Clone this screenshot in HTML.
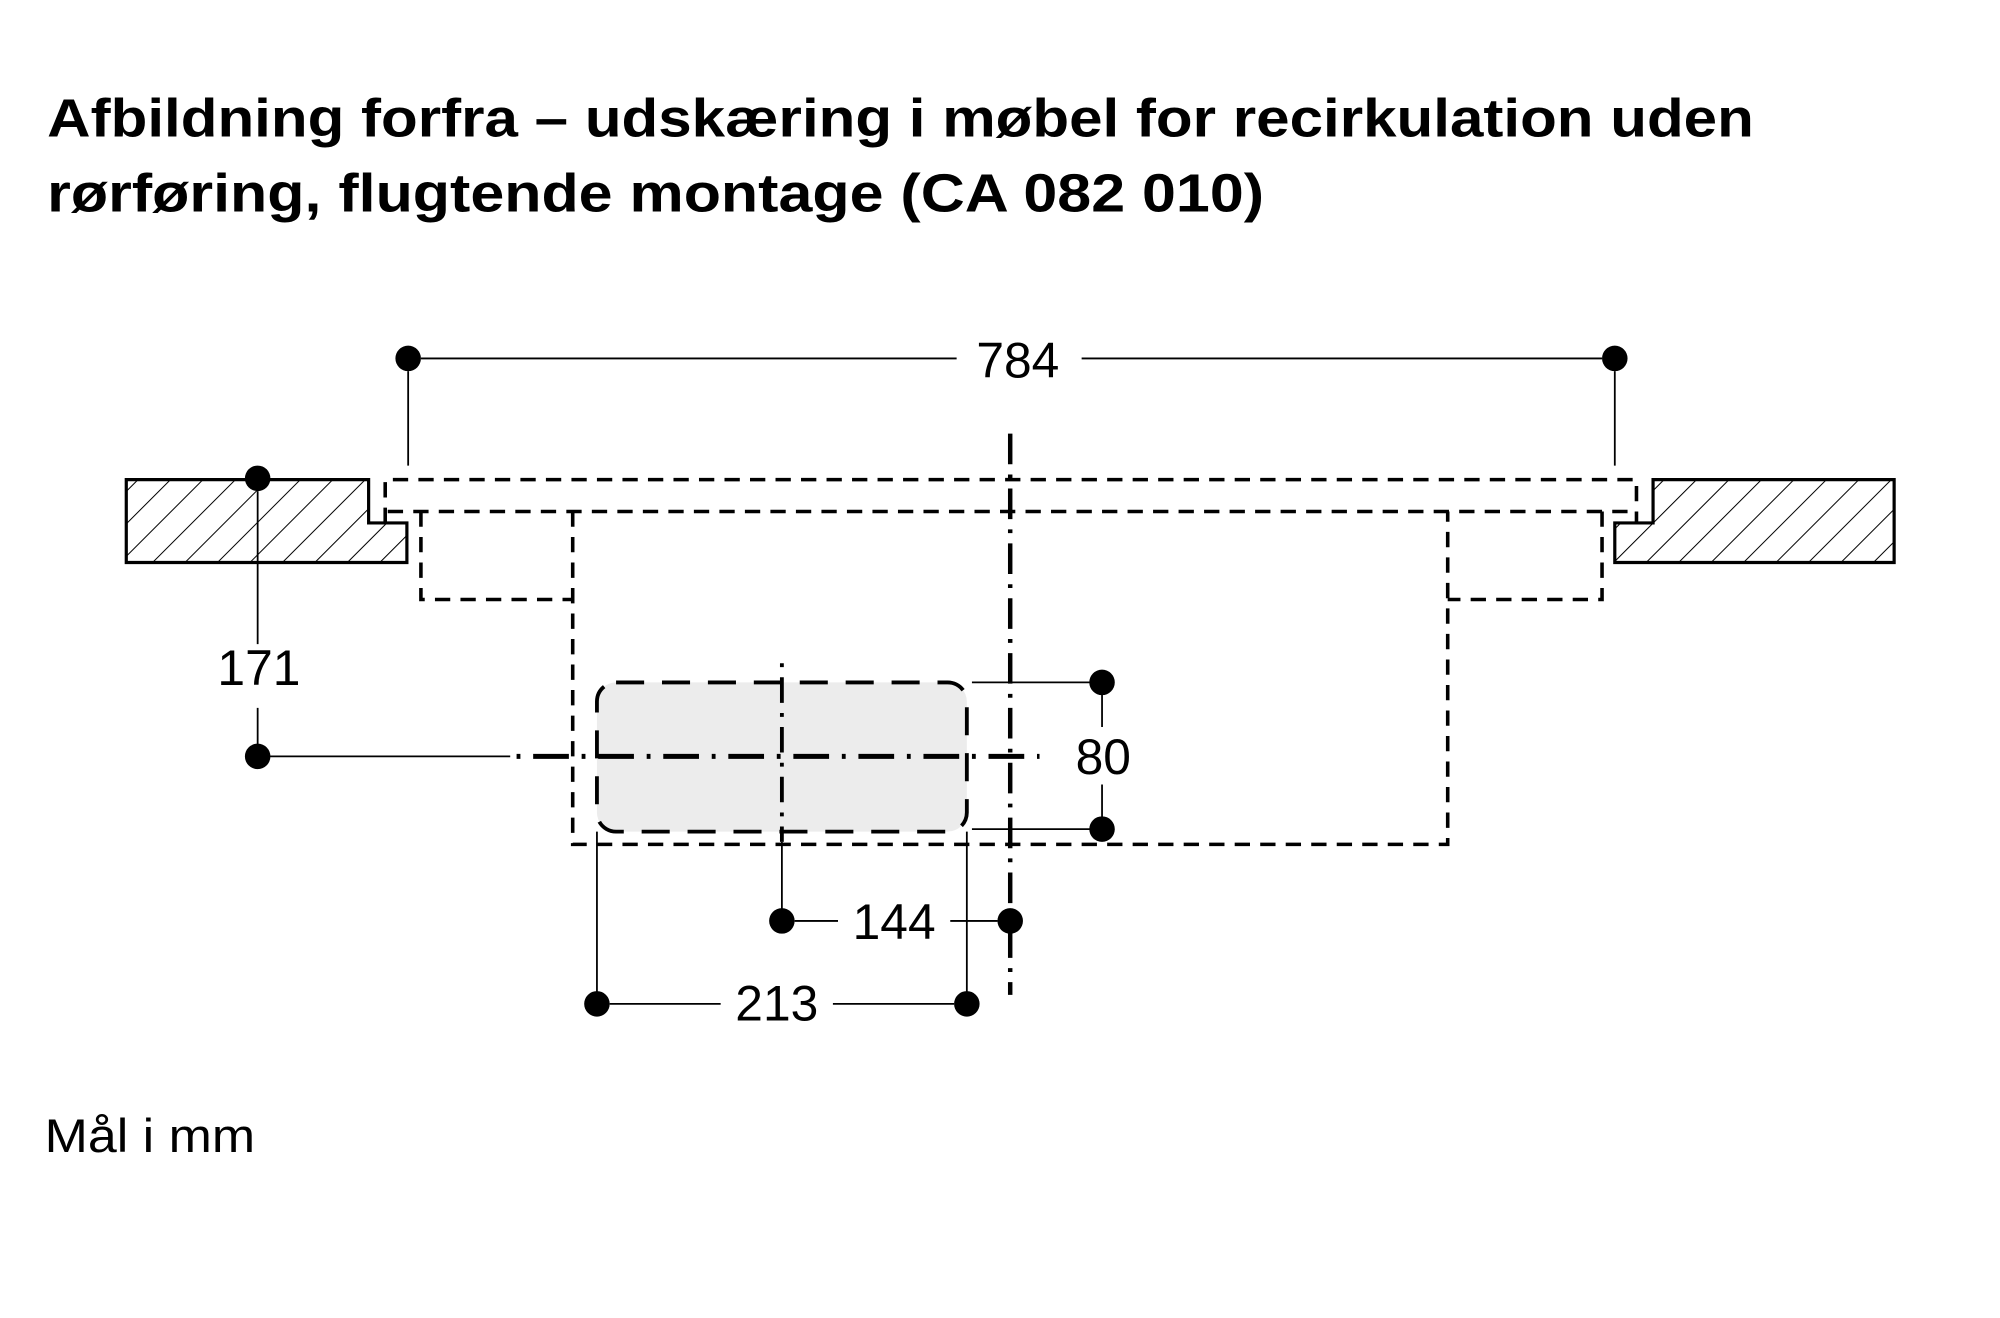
<!DOCTYPE html>
<html><head><meta charset="utf-8"><style>
html,body{margin:0;padding:0;background:#fff;}
svg{display:block;}
text{font-family:"Liberation Sans",Arial,sans-serif;fill:#000;}
</style></head><body>
<svg width="2000" height="1318" viewBox="0 0 1568 1033.3" xmlns="http://www.w3.org/2000/svg">
<defs>
<pattern id="h" patternUnits="userSpaceOnUse" width="18" height="18" patternTransform="rotate(45)">
<rect width="18" height="18" fill="#fff"/>
<line x1="0" y1="0" x2="0" y2="18" stroke="#000" stroke-width="1.6"/>
</pattern>
</defs>
<text x="37" y="107" font-size="42" font-weight="bold" textLength="1338" lengthAdjust="spacingAndGlyphs">Afbildning forfra – udskæring i møbel for recirkulation uden</text>
<text x="37" y="166" font-size="42" font-weight="bold" textLength="954" lengthAdjust="spacingAndGlyphs">rørføring, flugtende montage (CA 082 010)</text>

<g stroke="#000" fill="none">
<polygon points="99,376 289,376 289,410 319,410 319,441 99,441" fill="url(#h)" stroke-width="2.5"/>
<polygon points="1485,376 1296,376 1296,410 1266,410 1266,441 1485,441" fill="url(#h)" stroke-width="2.5"/>

<g stroke-width="2.8" stroke-dasharray="12,8">
<path d="M302,410 V376 H1283 V410"/>
<path d="M304,401 H1283"/>
<path d="M330,401 V470 H449"/>
<path d="M1256,401 V470 H1135"/>
<path d="M449,401 V662 H1135 V401"/>
</g>

<rect x="468" y="535" width="290" height="117" rx="15" fill="#ececec" stroke="none"/>
<rect x="468" y="535" width="290" height="117" rx="15" stroke-width="3" stroke-dasharray="22,14"/>

<path d="M792,340 V780" stroke-width="3.5" stroke-dasharray="24,8,3,8"/>
<path d="M405,593 H815" stroke-width="4" stroke-dasharray="3,10,28,10"/>
<path d="M613,520 V660" stroke-width="3" stroke-dasharray="3,8,20,8"/>

<g stroke-width="1.4">
<path d="M330,281 H750 M848,281 H1256"/>
<path d="M320,291 V365 M1266,291 V365"/>
<path d="M202,385 V505 M202,555 V593 H400"/>
<path d="M762,535 H864 V570 M762,650 H864 V615"/>
<path d="M613,660 V722 M623,722 H657 M745,722 H782"/>
<path d="M468,652 V787 M758,652 V787 M478,787 H565 M653,787 H748"/>
</g>
</g>
<g fill="#000">
<circle cx="320" cy="281" r="10"/><circle cx="1266" cy="281" r="10"/>
<circle cx="202" cy="375" r="10"/><circle cx="202" cy="593" r="10"/>
<circle cx="864" cy="535" r="10"/><circle cx="864" cy="650" r="10"/>
<circle cx="613" cy="722" r="10"/><circle cx="792" cy="722" r="10"/>
<circle cx="468" cy="787" r="10"/><circle cx="758" cy="787" r="10"/>
</g>
<g font-size="39" text-anchor="middle">
<text x="798" y="296">784</text>
<text x="203" y="537">171</text>
<text x="865" y="607">80</text>
<text x="701" y="736">144</text>
<text x="609" y="800">213</text>
</g>
<text x="35" y="903" font-size="37" textLength="165" lengthAdjust="spacingAndGlyphs">Mål i mm</text>
</svg>
</body></html>
